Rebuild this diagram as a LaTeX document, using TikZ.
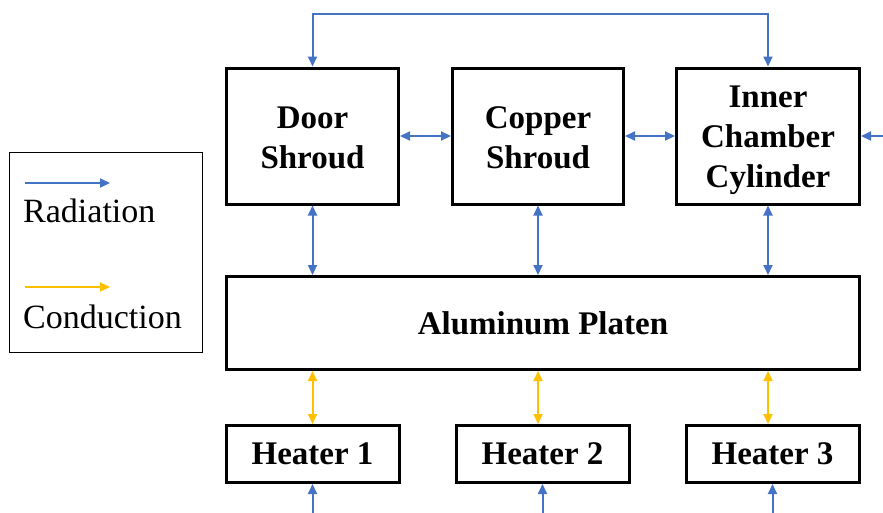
\documentclass[tikz,border=0pt]{standalone}
\usepackage{fontspec}
\setmainfont{Liberation Serif}
\usetikzlibrary{arrows.meta}
\definecolor{radblue}{HTML}{4472C4}
\definecolor{condyellow}{HTML}{FFC000}
\tikzset{
  x=1pt, y=-1pt,
  blk/.style={draw=black, line width=3pt, fill=white, inner sep=0pt, align=center,
    font=\bfseries\fontsize{33}{40}\selectfont},
  blktext/.style={inner sep=0pt, align=center, font=\bfseries\fontsize{33}{40}\selectfont},
  rad/.style={draw=radblue, line width=2pt},
  cond/.style={draw=condyellow, line width=2pt},
  both/.style={{Triangle[length=10pt,width=9pt]}-{Triangle[length=10pt,width=9pt]}},
  one/.style={-{Triangle[length=10pt,width=9pt]}},
  legtext/.style={inner sep=0pt, anchor=base west, font=\fontsize{34}{40}\selectfont}
}
\begin{document}
\begin{tikzpicture}
\useasboundingbox (0,0) rectangle (883,512);
% boxes
\node[blk, minimum width=172pt, minimum height=136pt] (door) at (312.5,136) {};
\node[blktext] (doortxt) at (312.5,138) {Door\\Shroud};
\node[blk, minimum width=171pt, minimum height=136pt] (copper) at (538,136) {};
\node[blktext] (coppertxt) at (538,138) {Copper\\Shroud};
\node[blk, minimum width=183pt, minimum height=136pt] (icc) at (768,136) {};
\node[blktext] (icctxt) at (768,140) {Inner\\Chamber\\Cylinder};
\node[blk, minimum width=633pt, minimum height=93pt] (platen) at (543,323) {Aluminum Platen};
\node[blk, minimum width=173pt, minimum height=57pt] (h1) at (312.5,454) {Heater 1};
\node[blk, minimum width=173pt, minimum height=57pt] (h2) at (542.5,454) {Heater 2};
\node[blk, minimum width=173pt, minimum height=57pt] (h3) at (772.5,454) {Heater 3};
% helper coordinates
\coordinate (top) at (0,14);
\coordinate (rightend) at (885,136);
\coordinate (bottom) at (0,514);
% radiation connectors
\draw[rad,both] (door.north) -- (door.north |- top) -| (icc.north);
\draw[rad,both] (door.east) -- (copper.west);
\draw[rad,both] (copper.east) -- (icc.west);
\draw[rad,one] (rightend) -- (icc.east);
\draw[rad,both] (door.south) -- (door.south |- platen.north);
\draw[rad,both] (copper.south) -- (copper.south |- platen.north);
\draw[rad,both] (icc.south) -- (icc.south |- platen.north);
\draw[rad,one] (h1.south |- bottom) -- (h1.south);
\draw[rad,one] (h2.south |- bottom) -- (h2.south);
\draw[rad,one] (h3.south |- bottom) -- (h3.south);
% conduction connectors
\draw[cond,both] (door.south |- platen.south) -- (door.south |- h1.north);
\draw[cond,both] (copper.south |- platen.south) -- (copper.south |- h2.north);
\draw[cond,both] (icc.south |- platen.south) -- (icc.south |- h3.north);
% legend
\node[draw=black, line width=1pt, minimum width=193pt, minimum height=200pt, inner sep=0pt] (legend) at (105.5,252) {};
\coordinate (l1a) at (25,183);
\coordinate (l1b) at (110,183);
\coordinate (l2a) at (25,287);
\coordinate (l2b) at (110,287);
\draw[rad,one] (l1a) -- (l1b);
\draw[cond,one] (l2a) -- (l2b);
\node[legtext] (radtxt) at (23,222) {Radiation};
\node[legtext] (condtxt) at (23,328) {Conduction};
\end{tikzpicture}
\end{document}
